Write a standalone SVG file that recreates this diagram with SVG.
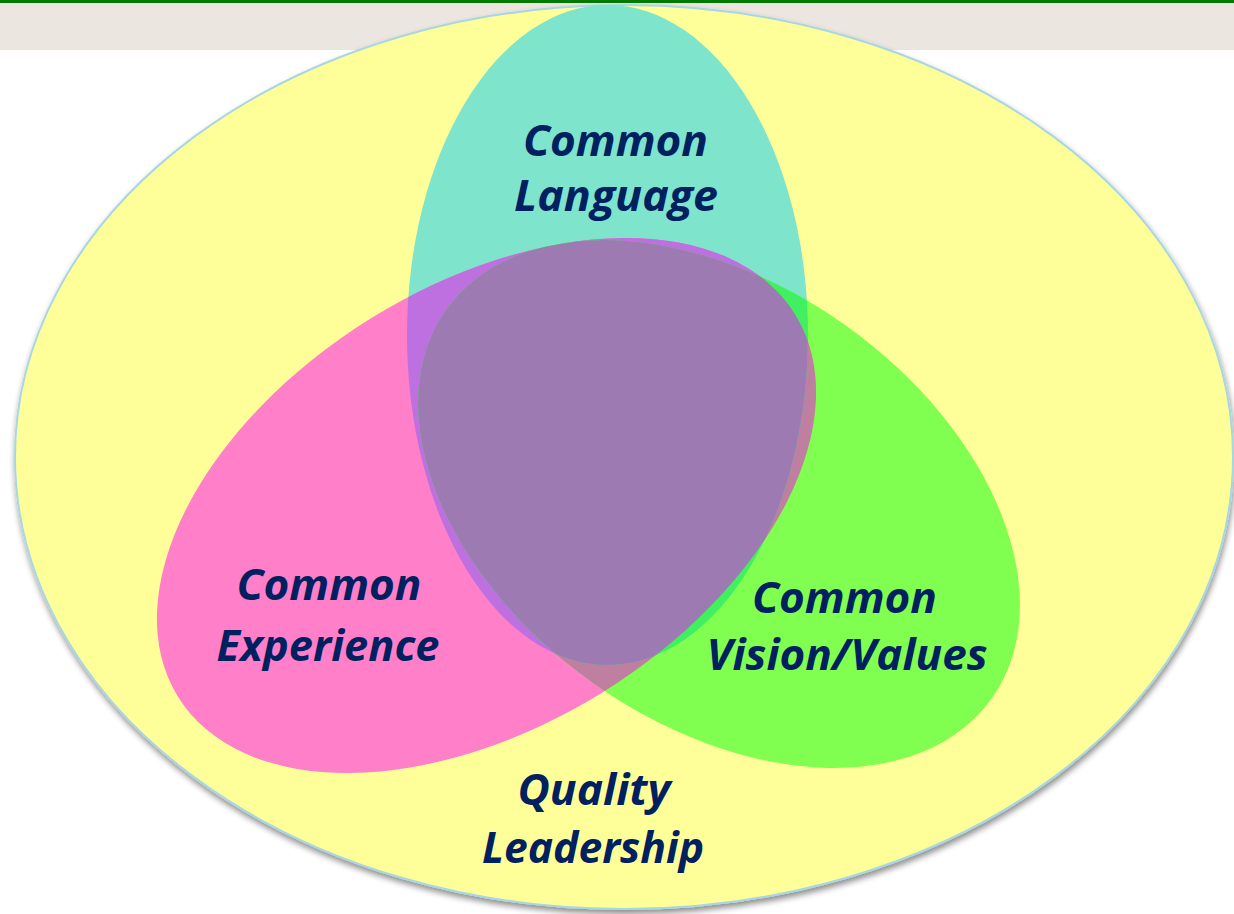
<svg xmlns="http://www.w3.org/2000/svg" width="1234" height="914" viewBox="0 0 1234 914">
<style>
.lbl{font-family:"Open Sans","Noto Sans","Liberation Sans",sans-serif;font-weight:bold;font-style:italic;font-size:43px;fill:#002060;text-anchor:middle}
</style>
<defs>
<filter id="shadow" x="-5%" y="-5%" width="110%" height="112%">
<feGaussianBlur in="SourceAlpha" stdDeviation="3"/>
<feOffset dx="1" dy="4" result="b"/>
<feComponentTransfer><feFuncA type="linear" slope="0.45"/></feComponentTransfer>
<feMerge><feMergeNode/><feMergeNode in="SourceGraphic"/></feMerge>
</filter>
<ellipse id="eTeal" cx="607.5" cy="335" rx="200.5" ry="330"/>
<ellipse id="ePink" cx="486.5" cy="505.5" rx="363" ry="220" transform="rotate(-31.8 486.5 505.5)"/>
<ellipse id="eGreen" cx="719" cy="504" rx="335" ry="219" transform="rotate(35.5 719 504)"/>
<clipPath id="clipTeal"><use href="#eTeal"/></clipPath>
<clipPath id="clipPink"><use href="#ePink"/></clipPath>
</defs>
<rect x="0" y="0" width="1234" height="914" fill="#ffffff"/>
<rect x="0" y="3" width="1234" height="47" fill="#EBE6E0"/>
<g id="quality-leadership">
<ellipse cx="624" cy="457" rx="609" ry="452" fill="#FFFF99" stroke="#A9D6E3" stroke-width="2" filter="url(#shadow)"/>
</g>
<rect x="0" y="0" width="1234" height="3" fill="#007A00"/>
<g id="common-language">
<use href="#eTeal" fill="#7EE4CC"/>
</g>
<g id="common-experience">
<use href="#ePink" fill="#FF7FC8"/>
</g>
<g id="common-vision">
<use href="#eGreen" fill="#80FF50"/>
</g>
<g id="overlaps">
<g clip-path="url(#clipPink)"><use href="#eGreen" fill="#BE7FA0"/></g>
<g clip-path="url(#clipTeal)">
<use href="#ePink" fill="#BF70E0"/>
<use href="#eGreen" fill="#40F060"/>
<g clip-path="url(#clipPink)"><use href="#eGreen" fill="#9E7AB2"/></g>
</g>
</g>
<g id="labels">
<text class="lbl" x="615.5" y="156" textLength="185" lengthAdjust="spacingAndGlyphs">Common</text>
<text class="lbl" x="616" y="211" textLength="204" lengthAdjust="spacingAndGlyphs">Language</text>
<text class="lbl" x="329" y="600" textLength="185" lengthAdjust="spacingAndGlyphs">Common</text>
<text class="lbl" x="328" y="661" textLength="223" lengthAdjust="spacingAndGlyphs">Experience</text>
<text class="lbl" x="844.5" y="613" textLength="185" lengthAdjust="spacingAndGlyphs">Common</text>
<text class="lbl" x="847" y="670" textLength="281" lengthAdjust="spacingAndGlyphs">Vision/Values</text>
<text class="lbl" x="594" y="805" textLength="153" lengthAdjust="spacingAndGlyphs">Quality</text>
<text class="lbl" x="593" y="863" textLength="222" lengthAdjust="spacingAndGlyphs">Leadership</text>
</g>
</svg>
